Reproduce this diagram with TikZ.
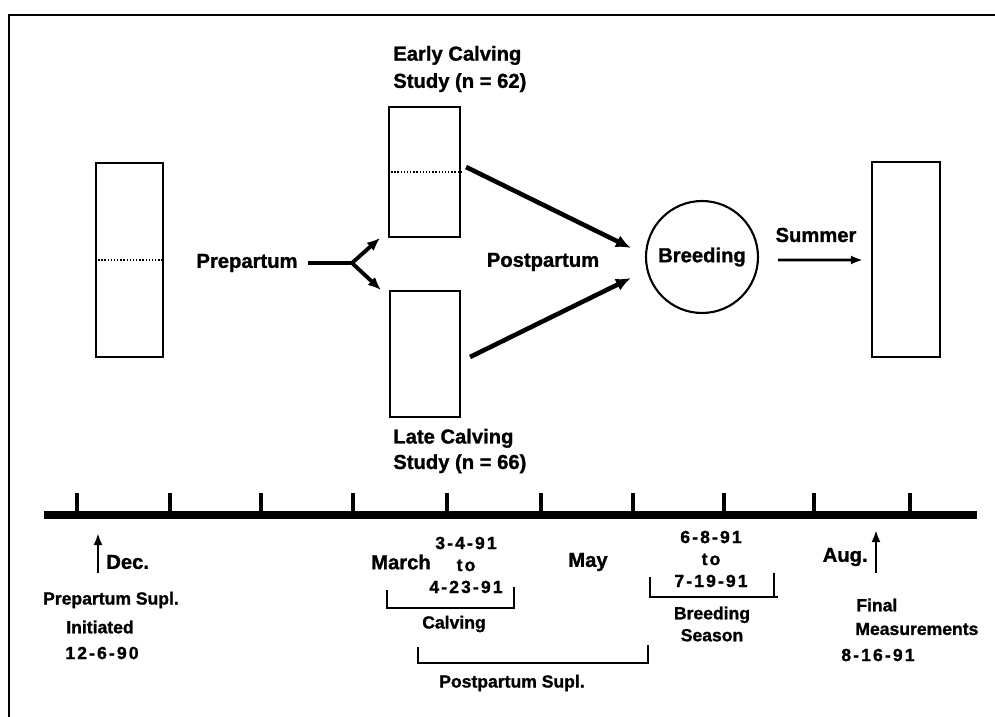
\documentclass[tikz,border=0pt]{standalone}
\usepackage{fontspec}
\setmainfont{Liberation Sans}[BoldFeatures={FakeBold=1.2}]
\usetikzlibrary{arrows.meta,calc}

\tikzset{
  labelbig/.style={font=\fontsize{11.5}{14.5}\selectfont\bfseries, inner sep=0pt},
  labelsmall/.style={font=\fontsize{10}{12.5}\selectfont\bfseries, inner sep=0pt},
  labeldate/.style={font=\fontsize{10}{12.5}\selectfont\bfseries\addfontfeature{LetterSpace=12}, inner sep=0pt},
  herdbox/.style={draw, line width=1.2pt, inner sep=0pt},
  splitline/.style={densely dotted, line width=0.8pt},
  flowarrow/.style={line width=2.6pt, -{Latex[length=3mm,width=2.6mm]}},
  forkarrow/.style={line width=2.2pt, -{Latex[length=2.6mm,width=2.2mm]}},
  thinarrow/.style={line width=1.5pt, -{Latex[length=2.4mm,width=1.8mm]}},
  bracketline/.style={line width=1.7pt},
}

\begin{document}
\begin{tikzpicture}[x=0.02cm, y=-0.02cm]
		%%%%% START %%%%%
		\useasboundingbox (0,0) rectangle (995,717);
		\draw[line width=1.7pt] (9,725) -- (9,15) -- (1000,15);
		
		% herds and breeding
		\node[herdbox, minimum width=1.34cm, minimum height=3.88cm] (winter) at (129.5,260) {};
		\node[herdbox, minimum width=1.42cm, minimum height=2.6cm] (early) at (424.5,172) {};
		\node[herdbox, minimum width=1.40cm, minimum height=2.52cm] (late) at (425,354) {};
		\node[herdbox, minimum width=1.36cm, minimum height=3.9cm] (final) at (906,259.5) {};
		\node[draw, circle, line width=1.2pt, minimum size=2.24cm, labelbig] (breeding) at (702,257) {Breeding};
		\draw[splitline] (winter.west) -- (winter.east);
		\draw[splitline] (early.west) -- (early.east);
		
		\node[labelbig, font=\fontsize{11.5}{15.5}\selectfont\bfseries, anchor=west, align=left] (earlylabel) at (393,69) {Early Calving\\Study (n = 62)};
		\node[labelbig, anchor=west, align=left] (latelabel) at (393,451) {Late Calving\\Study (n = 66)};
		
		\node[labelbig] (prepartum) at (247,263) {Prepartum};
		\coordinate (fork) at (352,263);
		\draw[line width=2.2pt] ($(prepartum.east)+(10,0)$) -- (fork);
		\draw[forkarrow] (fork) -- ($(early.south west)+(-8,0)$);
		\draw[forkarrow] (fork) -- ($(late.north west)+(-8,0)$);
		
		\node[labelbig] (postpartum) at (543,262) {Postpartum};
		\draw[flowarrow] ($(early.east)+(5,-5)$) -- ($(breeding.west)+(-14,-9)$);
		\draw[flowarrow] ($(late.east)+(9,3)$) -- ($(breeding.west)+(-14,21)$);
		
		\node[labelbig] (summer) at (816,235) {Summer};
		\draw[thinarrow] ($(breeding.east)+(19,3)$) -- ($(final.west)+(-8,0.5)$);
		
		% time line
		\draw[line width=4pt] (44,515) -- (977,515);
		\foreach \tx in {77,170,261,353,447,541,633,724,814,910}
			\draw[line width=2.3pt] (\tx,515) -- (\tx,493);
		
		% december
		\draw[thinarrow] (98,573) -- (98,533);
		\node[labelbig, anchor=west] (dec) at (106,562) {Dec.};
		\node[labelsmall] (supl) at (111,600) {Prepartum Supl.};
		\node[labelsmall] (initiated) at (100,627) {Initiated};
		\node[labeldate] (startdate) at (102,653) {12-6-90};
		
		% calving
		\node[labelbig] (march) at (401,562) {March};
		\node[labeldate, align=center] (calvdates) at (466,565) {3-4-91\\to\\4-23-91};
		\draw[bracketline] (387,590) -- (387,608) -- (514,608) -- (514,587);
		\node[labelsmall] (calving) at (454,624) {Calving};
		\draw[bracketline] (418,647) -- (418,663) -- (648,663) -- (648,645);
		\node[labelsmall] (postsupl) at (512,683) {Postpartum Supl.};
		\node[labelbig] (may) at (588,562) {May};
		
		% breeding season
		\node[labeldate, align=center] (breeddates) at (711,559) {6-8-91\\to\\7-19-91};
		\draw[bracketline] (650,577) -- (650,597) -- (778,597);
		\draw[bracketline] (774,573) -- (774,597);
		\node[labelsmall, align=center] (season) at (712,624) {Breeding\\Season};
		
		% august
		\draw[thinarrow] (876,573) -- (876,530);
		\node[labelbig, anchor=east] (aug) at (868,557) {Aug.};
		\node[labelsmall, anchor=west] (finallabel) at (856,605) {Final};
		\node[labelsmall, anchor=west] (measure) at (855,629) {Measurements};
		\node[labeldate, anchor=west] (enddate) at (841,655) {8-16-91};
		%%%%% END %%%%%
\end{tikzpicture}
\end{document}
